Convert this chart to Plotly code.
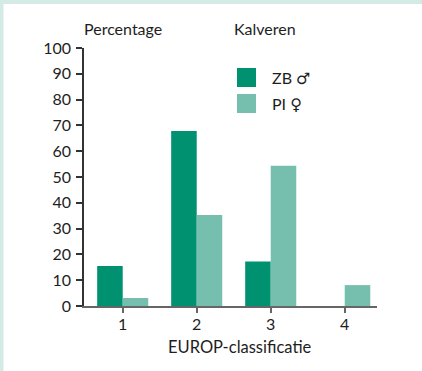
import plotly.graph_objects as go

categories = [1, 2, 3, 4]
zb_values = [15.5, 67.8, 17.2, 0]
pi_values = [3.1, 35.3, 54.4, 8.1]
tick_labels = ["1", "2", "3", "4"]
series_names = ["ZB", "PI"]
series_symbols = ["♂", "♀"]

W, H = 422, 371
L, R, T, B = 84, 45, 48, 65
PW, PH = W - L - R, H - T - B

def px(x):
    return (x - L) / PW

def py(y):
    return (H - B - y) / PH

C_ZB = "#009270"
C_PI = "#76bfae"
FONT = "Lato"
FS = 16

fig = go.Figure()
fig.add_trace(go.Bar(x=categories, y=zb_values, name=series_names[0], marker_color=C_ZB, marker_line_width=0))
fig.add_trace(go.Bar(x=categories, y=pi_values, name=series_names[1], marker_color=C_PI, marker_line_width=0))

shapes = [
    dict(type="rect", xref="paper", yref="paper", x0=px(0), x1=px(W), y0=py(0), y1=py(4),
         fillcolor="#d3ebe4", line_width=0, layer="below"),
    dict(type="rect", xref="paper", yref="paper", x0=px(0), x1=px(3.5), y0=py(0), y1=py(H),
         fillcolor="#d3ebe4", line_width=0, layer="below"),
    dict(type="rect", xref="paper", yref="paper", x0=px(237), x1=px(256), y0=py(87), y1=py(68),
         fillcolor=C_ZB, line_width=0),
    dict(type="rect", xref="paper", yref="paper", x0=px(237), x1=px(256), y0=py(113), y1=py(94),
         fillcolor=C_PI, line_width=0),
]

ann_font = dict(family=FONT, size=FS, color="#1e1e1e")

def legend_text(name, sym):
    return f"{name} <span style='font-family:DejaVu Sans;font-size:{FS}px'>{sym}</span>"

annotations = [
    dict(text="Percentage", x=px(82), y=py(28), xref="paper", yref="paper", xanchor="left", yanchor="middle",
         showarrow=False, font=ann_font),
    dict(text="Kalveren", x=px(232), y=py(28), xref="paper", yref="paper", xanchor="left", yanchor="middle",
         showarrow=False, font=ann_font),
    dict(text="EUROP-classificatie", x=px(239.5), y=py(347), xref="paper", yref="paper", xanchor="center",
         yanchor="middle", showarrow=False, font=dict(family=FONT, size=16.5, color="#1e1e1e")),
    dict(text=legend_text(series_names[0], series_symbols[0]), x=px(270), y=py(78), xref="paper", yref="paper",
         xanchor="left", yanchor="middle", showarrow=False, font=ann_font),
    dict(text=legend_text(series_names[1], series_symbols[1]), x=px(270), y=py(104), xref="paper", yref="paper",
         xanchor="left", yanchor="middle", showarrow=False, font=ann_font),
]

fig.update_layout(
    width=W, height=H,
    margin=dict(l=L, r=R, t=T, b=B, pad=0),
    paper_bgcolor="white", plot_bgcolor="white",
    barmode="group", bargap=0.31, bargroupgap=0,
    showlegend=False,
    shapes=shapes, annotations=annotations,
    font=dict(family=FONT, size=FS, color="#1e1e1e"),
    xaxis=dict(range=[0.477, 4.436], tickmode="array", tickvals=categories, ticktext=tick_labels,
               showline=True, linecolor="#666", linewidth=2, ticks="outside", ticklen=5, tickwidth=1.5,
               tickcolor="#666", showgrid=False, zeroline=False, ticklabelstandoff=-2,
               tickfont=dict(family=FONT, size=FS, color="#1e1e1e"), fixedrange=True),
    yaxis=dict(range=[0, 100], tickmode="array", tickvals=list(range(0, 101, 10)),
               showline=True, linecolor="#333", linewidth=1.5, ticks="outside", ticklen=6, tickwidth=1.5,
               tickcolor="#333", showgrid=False, zeroline=False, ticklabelstandoff=2,
               tickfont=dict(family=FONT, size=FS, color="#1e1e1e"), fixedrange=True),
)

fig.write_html("out.html", config={"displayModeBar": False},
               post_script="document.body.style.margin='0';document.body.style.overflow='hidden';")
